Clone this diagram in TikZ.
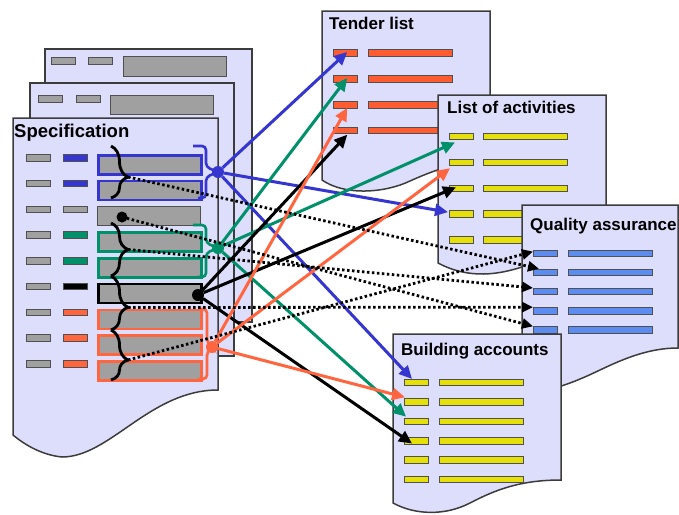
\documentclass[tikz,border=0pt]{standalone}
\usepackage{fontspec}
\setmainfont{Liberation Sans}
\usetikzlibrary{arrows.meta,calc,decorations.pathreplacing}
\definecolor{pagefill}{RGB}{221,221,252}
\definecolor{pageedge}{RGB}{60,60,60}
\definecolor{graybar}{RGB}{160,160,160}
\definecolor{baredge}{RGB}{80,80,80}
\definecolor{cblue}{RGB}{53,53,207}
\definecolor{cgreen}{RGB}{0,144,106}
\definecolor{corange}{RGB}{255,102,64}
\definecolor{tlbar}{RGB}{255,92,50}
\definecolor{ybar}{RGB}{229,224,10}
\definecolor{qabar}{RGB}{92,140,240}
\begin{document}
\begin{tikzpicture}[x=1pt,y=-1pt,
 page/.style={fill=pagefill, draw=pageedge, line width=1.5pt},
 bar/.style={rectangle, inner sep=0pt, draw=baredge, line width=1pt, minimum height=6.5pt},
 sbar/.style={bar, minimum width=23.5pt},
 lbar/.style={bar, minimum width=84pt},
 bigbar/.style={rectangle, inner sep=0pt, fill=graybar, minimum width=103pt, minimum height=19pt},
 title/.style={inner sep=0pt, anchor=base west, font=\bfseries\fontsize{17}{20}\selectfont},
 dotn/.style={circle, inner sep=0pt, minimum size=12pt},
 carrow/.style={line width=3pt, -{Triangle[length=13pt,width=12pt]}},
 darrow/.style={line width=2.8pt, dash pattern=on 2.5pt off 2.5pt, -{Triangle[length=11pt,width=10pt]}},
 cbrace/.style={line width=2.8pt, decorate, decoration={brace, amplitude=17pt, aspect=#1}},
 cbracket/.style={line width=2.6pt, rounded corners=4pt}]
\useasboundingbox (0,0) rectangle (679,514);

% ---- back pages of the specification
\path[page] (45,49) rectangle (252,322);
\node[sbar, fill=graybar, anchor=north west] (p1a) at (51,57) {};
\node[sbar, fill=graybar, anchor=north west] (p1b) at (88,57) {};
\node[bigbar, draw=baredge, line width=1pt, minimum height=20pt, anchor=north west] (p1c) at (123,56) {};
\path[page] (30,83) rectangle (234,356);
\node[sbar, fill=graybar, anchor=north west] (p2a) at (38,95) {};
\node[sbar, fill=graybar, anchor=north west] (p2b) at (76,95) {};
\node[bigbar, draw=baredge, line width=1pt, anchor=north west] (p2c) at (110,95) {};

% ---- specification page
\path[page] (13,118) -- (218,118) -- (218,390)
  .. controls (150,390) and (110,457) .. (62,457)
  .. controls (42,455) and (25,445) .. (13,435) -- cycle;
\node[title, font=\bfseries\fontsize{18.5}{22}\selectfont] (spectitle) at (14,137) {Specification};
\foreach \i/\cc/\ec/\ew in {1/cblue/cblue/2.6pt, 2/cblue/cblue/2.6pt, 3/graybar/baredge/1pt,
  4/cgreen/cgreen/2.6pt, 5/cgreen/cgreen/2.6pt, 6/black/black/2.6pt,
  7/corange/corange/2.6pt, 8/corange/corange/2.6pt, 9/corange/corange/2.6pt}{
  \pgfmathsetmacro\rowy{154+25.75*(\i-1)}
  \node[sbar, fill=graybar, anchor=north west] (sa\i) at (26,\rowy) {};
  \node[sbar, fill=\cc, anchor=north west] (sb\i) at (63,\rowy) {};
  \node[bigbar, draw=\ec, line width=\ew, anchor=north west] (sc\i) at (97,\rowy) {};
}

% ---- black braces
\draw[cbrace=0.6] (111,146) -- (111,198);
\draw[cbrace=0.5] (111,223) -- (111,276);
\draw[cbrace=0.58] (111,276) -- (111,330);
\draw[cbrace=0.6] (111,330) -- (111,380);
\coordinate (tipS) at (128,177);
\coordinate (tipA) at (128,249.5);
\coordinate (tipB) at (128,307.5);
\coordinate (tipC) at (128,360);

% ---- coloured brackets
\coordinate (bc) at (218,172);
\coordinate (gc) at (218,248);
\coordinate (kc) at (198,295);
\coordinate (oc) at (212,347);
\draw[cbracket, cblue] (193,146) -- (206,146) -- (206,167) -- (bc) -- (206,177) -- (206,198) -- (198,198);
\draw[cbracket, cgreen] (193,225) -- (206,225) -- (206,243) -- (gc) -- (206,253) -- (206,277) -- (198,277);
\draw[cbracket, corange] (200,309) -- (207,309) -- (207,342) -- (oc) -- (207,352) -- (207,379) -- (198,379);

% ---- Tender list
\path[page] (322,11) -- (490,11) -- (490,160)
  .. controls (460,160) and (430,172) .. (410,181)
  .. controls (385,193) and (345,196) .. (322,180) -- cycle;
\node[title] (tltitle) at (329,29.3) {Tender list};
\foreach \i in {1,...,4}{
  \pgfmathsetmacro\rowy{53+25.9*(\i-1)}
  \node[sbar, fill=tlbar, anchor=west] (tl\i) at (333,\rowy) {};
  \node[lbar, fill=tlbar, anchor=west] (tlb\i) at (368,\rowy) {};
}

% ---- List of activities
\path[page] (438,95) -- (606,95) -- (606,250)
  .. controls (570,252) and (540,262) .. (522,267)
  .. controls (500,274) and (470,280) .. (438,263) -- cycle;
\node[title] (latitle) at (447,113) {List of activities};
\foreach \i in {1,...,5}{
  \pgfmathsetmacro\rowy{136.7+25.8*(\i-1)}
  \node[sbar, fill=ybar, anchor=west] (la\i) at (449,\rowy) {};
  \node[lbar, fill=ybar, anchor=west] (lab\i) at (483,\rowy) {};
}

% ---- Quality assurance
\path[page] (522,205) -- (678,205) -- (678,348)
  .. controls (650,348) and (625,358) .. (600,370)
  .. controls (575,382) and (550,392) .. (522,394) -- cycle;
\node[title] (qatitle) at (530,230) {Quality assurance};
\foreach \i in {1,...,5}{
  \pgfmathsetmacro\rowy{253.3+19.2*(\i-1)}
  \node[sbar, fill=qabar, anchor=west] (qa\i) at (533,\rowy) {};
  \node[lbar, fill=qabar, anchor=west] (qab\i) at (568,\rowy) {};
}

% ---- Building accounts
\path[page] (393,334) -- (561,334) -- (561,480)
  .. controls (520,480) and (495,490) .. (470,503)
  .. controls (445,516) and (415,515) .. (393,503) -- cycle;
\node[title] (batitle) at (401,355) {Building accounts};
\foreach \i in {1,...,6}{
  \pgfmathsetmacro\rowy{382.7+19.35*(\i-1)}
  \node[sbar, fill=ybar, anchor=west] (ba\i) at (404,\rowy) {};
  \node[lbar, fill=ybar, anchor=west] (bab\i) at (439,\rowy) {};
}

% ---- dots
\node[dotn, fill=cblue] (bdot) at (bc) {};
\node[dotn, fill=cgreen] (gdot) at (gc) {};
\node[dotn, fill=black] (kdot) at (kc) {};
\node[dotn, fill=corange] (odot) at (oc) {};
\node[dotn, fill=black, minimum size=11pt] (sdot) at (122,217) {};

% ---- coloured connectors
\draw[carrow, cblue] (bdot) -- ($(tl1.center)+(2,-1)$);
\draw[carrow, cblue] (bdot) -- ($(la4.west)+(-1,-2)$);
\draw[carrow, cblue] (bdot) -- ($(ba1.north west)+(8,0)$);
\draw[carrow, cgreen] (gdot) -- ($(tl2.center)+(2,-1)$);
\draw[carrow, cgreen] (gdot) -- ($(la1.south west)+(6,2)$);
\draw[carrow, cgreen] (gdot) -- ($(ba3.north west)+(2,-1)$);
\draw[carrow, black] (kdot) -- ($(tl4.center)+(2,4)$);
\draw[carrow, black] (kdot) -- ($(la3.west)+(7,-1)$);
\draw[carrow, black] (kdot) -- ($(ba4.south west)+(8,-1)$);
\draw[carrow, corange] (odot) -- ($(tl3.center)+(2,3)$);
\draw[carrow, corange] (odot) -- ($(la2.south west)+(1,2)$);
\draw[carrow, corange] (odot) -- ($(ba2.north west)+(1,-1)$);

% ---- dotted connectors to quality assurance
\draw[darrow] (tipS) -- ($(qa2.north west)+(6,0)$);
\draw[darrow] (sdot.center) -- (qa5.north west);
\draw[darrow] (tipA) -- (qa3.north west);
\draw[darrow] (tipB) -- (qa4.north west);
\draw[darrow] (tipC) -- ($(qa1.north west)+(0,2)$);
\end{tikzpicture}
\end{document}
